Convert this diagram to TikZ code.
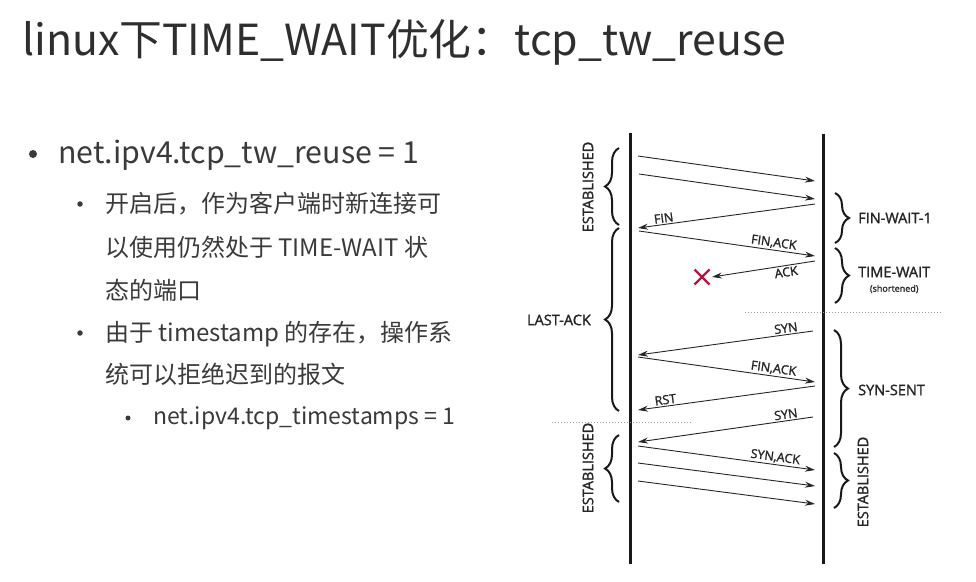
\documentclass[tikz,border=0pt]{standalone}
\usepackage{fontspec}
\setmainfont{Noto Sans CJK SC}
\newfontfamily\dfont{Open Sans}[FakeBold=1.5]
\usetikzlibrary{arrows.meta,decorations.pathreplacing}
\definecolor{titlec}{HTML}{2E2E2E}
\definecolor{bodyc}{HTML}{3A3A3A}
\definecolor{xred}{HTML}{B3163F}
\begin{document}
\begin{tikzpicture}[x=1pt,y=-1pt,
  msg/.style={draw=black!85, line width=0.9pt, -{Stealth[length=10pt,width=6pt]}},
  lbl/.style={font=\dfont\fontsize{12.5}{13}\selectfont, inner sep=1.5pt, text=black!85},
  statelbl/.style={font=\dfont\fontsize{14.5}{16}\selectfont, text=black!85, inner sep=0pt},
  lifeline/.style={line width=3pt, draw=black!90},
  bracestyle/.style={decorate, decoration={brace, amplitude=14pt}, line width=2pt, draw=black!90},
  sepline/.style={draw=gray!80, dotted, line width=1pt},
  bodytext/.style={anchor=base west, inner sep=0pt, text=bodyc, font=\fontsize{24}{28}\selectfont},
  dot/.style={circle, fill=bodyc, inner sep=0pt}
]
\useasboundingbox (0,0) rectangle (976,581);
\fill[white] (0,0) rectangle (976,581);

% ---------- title ----------
\node[anchor=base west, inner sep=0pt, text=titlec, font=\fontsize{42.8}{50}\selectfont] (title) at (22,55)
  {linux下TIME\_WAIT优化：tcp\_tw\_reuse};

% ---------- bullets ----------
\node[dot, minimum size=8pt] (b1) at (33,154) {};
\node[bodytext, font=\fontsize{30.3}{34}\selectfont] (t1) at (58,163) {net.ipv4.tcp\_tw\_reuse = 1};

\node[dot, minimum size=5.5pt] (b2) at (80,204) {};
\node[bodytext] (t2a) at (105,212) {开启后，作为客户端时新连接可};
\node[bodytext] (t2b) at (105,256) {以使用仍然处于 TIME-WAIT 状};
\node[bodytext] (t2c) at (105,299) {态的端口};

\node[dot, minimum size=5.5pt] (b3) at (80,333) {};
\node[bodytext] (t3a) at (105,341) {由于 timestamp 的存在，操作系};
\node[bodytext] (t3b) at (105,383) {统可以拒绝迟到的报文};

\node[dot, minimum size=5pt] (b4) at (128,418) {};
\node[bodytext, font=\fontsize{23}{26}\selectfont] (t4) at (153,424) {net.ipv4.tcp\_timestamps = 1};

% ---------- lifelines ----------
\coordinate (Ltop) at (630,133); \coordinate (Lbot) at (630,564);
\coordinate (Rtop) at (823,134); \coordinate (Rbot) at (823,564);
\draw[lifeline] (Ltop) -- (Lbot);
\draw[lifeline] (Rtop) -- (Rbot);

% ---------- separators ----------
\coordinate (s1a) at (745,312); \coordinate (s1b) at (942,312);
\coordinate (s2a) at (552,422); \coordinate (s2b) at (693,422);
\draw[sepline] (s1a) -- (s1b);
\draw[sepline] (s2a) -- (s2b);

% ---------- message end points ----------
\coordinate (m1a) at (638,156); \coordinate (m1b) at (815,181);
\coordinate (m2a) at (639,174); \coordinate (m2b) at (815,199);
\coordinate (m3a) at (815,204); \coordinate (m3b) at (638,228);
\coordinate (m4a) at (639,231); \coordinate (m4b) at (815,256);
\coordinate (m5a) at (815,261); \coordinate (m5b) at (712,277);
\coordinate (m6a) at (813,331); \coordinate (m6b) at (638,355);
\coordinate (m7a) at (638,357); \coordinate (m7b) at (815,382);
\coordinate (m8a) at (815,386); \coordinate (m8b) at (638,410);
\coordinate (m9a) at (813,417); \coordinate (m9b) at (638,442);
\coordinate (m10a) at (638,446); \coordinate (m10b) at (815,470);
\coordinate (m11a) at (638,463); \coordinate (m11b) at (815,486);
\coordinate (m12a) at (638,481); \coordinate (m12b) at (815,504);

\draw[msg] (m1a) -- (m1b);
\draw[msg] (m2a) -- (m2b);
\draw[msg] (m3a) -- node[lbl, pos=0.85, sloped, above] (lfin) {FIN} (m3b);
\draw[msg] (m4a) -- node[lbl, pos=0.76, sloped, above] (lfinack1) {FIN,ACK} (m4b);
\draw[msg] (m5a) -- node[lbl, pos=0.29, sloped, below] (lack) {ACK} (m5b);
\draw[msg] (m6a) -- node[lbl, pos=0.15, sloped, above] (lsyn1) {SYN} (m6b);
\draw[msg] (m7a) -- node[lbl, pos=0.76, sloped, above] (lfinack2) {FIN,ACK} (m7b);
\draw[msg] (m8a) -- node[lbl, pos=0.84, sloped, above] (lrst) {RST} (m8b);
\draw[msg] (m9a) -- node[lbl, pos=0.15, sloped, above] (lsyn2) {SYN} (m9b);
\draw[msg] (m10a) -- node[lbl, pos=0.77, sloped, above] (lsynack) {SYN,ACK} (m10b);
\draw[msg] (m11a) -- (m11b);
\draw[msg] (m12a) -- (m12b);

% ---------- lost packet cross ----------
\coordinate (xc) at (702,277);
\draw[xred, line width=2.4pt] ([shift={(-7.5,-7.5)}]xc) -- ([shift={(7.5,7.5)}]xc)
                              ([shift={(-7.5,7.5)}]xc) -- ([shift={(7.5,-7.5)}]xc);

% ---------- left braces ----------
\coordinate (lb1a) at (619,225); \coordinate (lb1b) at (619,148);
\coordinate (lb2a) at (619,411); \coordinate (lb2b) at (619,228);
\coordinate (lb3a) at (619,502); \coordinate (lb3b) at (619,435);
\draw[bracestyle] (lb1a) -- (lb1b);
\draw[bracestyle] (lb2a) -- (lb2b);
\draw[bracestyle] (lb3a) -- (lb3b);

\node[statelbl, rotate=90] (sEst1) at (588,187) {ESTABLISHED};
\node[statelbl, anchor=east] (sLastAck) at (591,320) {LAST-ACK};
\node[statelbl, rotate=90] (sEst2) at (588,468) {ESTABLISHED};

% ---------- right braces ----------
\coordinate (rb1a) at (835,193); \coordinate (rb1b) at (835,243);
\coordinate (rb2a) at (835,248); \coordinate (rb2b) at (835,303);
\coordinate (rb3a) at (834,330); \coordinate (rb3b) at (834,447);
\coordinate (rb4a) at (834,453); \coordinate (rb4b) at (834,508);
\draw[bracestyle] (rb1a) -- (rb1b);
\draw[bracestyle] (rb2a) -- (rb2b);
\draw[bracestyle] (rb3a) -- (rb3b);
\draw[bracestyle] (rb4a) -- (rb4b);

\node[statelbl, anchor=west] (sFinWait) at (858,218) {FIN-WAIT-1};
\node[statelbl, anchor=west] (sTimeWait) at (858,272) {TIME-WAIT};
\node[font=\dfont\fontsize{9}{10}\selectfont, text=black!85, inner sep=0pt] (sShort) at (sTimeWait.center |- 0,289) {(shortened)};
\node[statelbl, anchor=west] (sSynSent) at (858,390) {SYN-SENT};
\node[statelbl, rotate=90] (sEst3) at (863,482) {ESTABLISHED};
\end{tikzpicture}
\end{document}
